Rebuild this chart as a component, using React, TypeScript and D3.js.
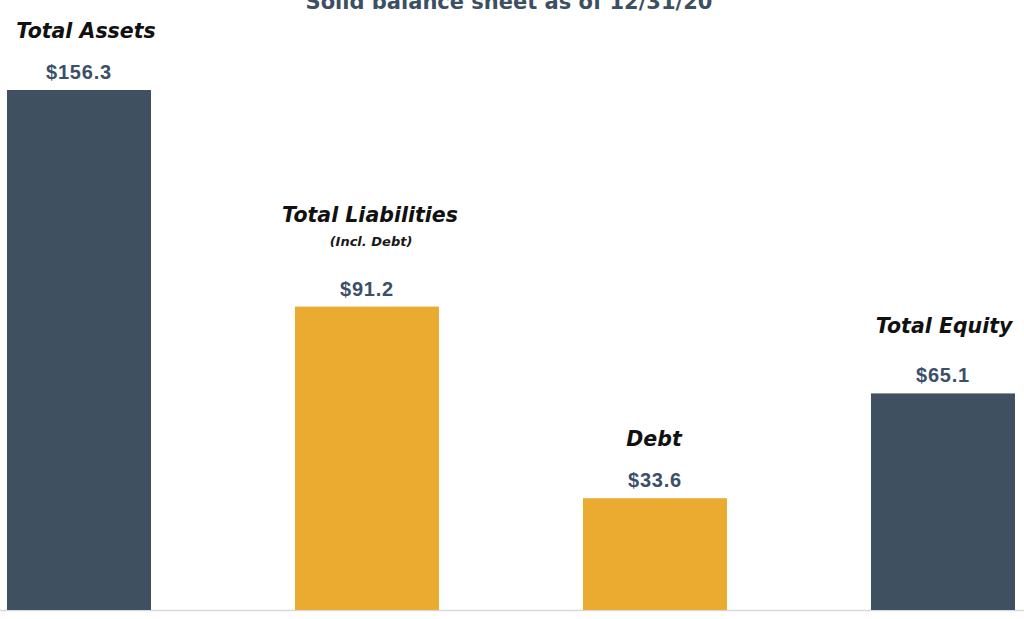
import * as d3 from "d3";
import { useEffect, useRef } from "react";

const CATEGORIES = ["Total Assets", "Total Liabilities", "Debt", "Total Equity"];
const SUBLABELS = ["", "(Incl. Debt)", "", ""];
const VALUES = [156.3, 91.2, 33.6, 65.1];
const KINDS = ["asset", "liability", "liability", "asset"];
const TITLE = "Solid balance sheet as of 12/31/20";

const COLORS: Record<string, string> = {
  asset: "#3f5060",
  liability: "#eaab30",
};

const WIDTH = 1024;
const HEIGHT = 619;

const drawChart = (svgElement: SVGSVGElement) => {
  const svg = d3.select(svgElement);
  svg.selectAll("*").remove();

  const baseline = 610;
  const xScale = d3
    .scaleBand<string>()
    .domain(CATEGORIES)
    .range([-65, 1087])
    .paddingInner(0.5)
    .paddingOuter(0.25);

  const yScale = d3.scaleLinear().domain([0, 156.3]).range([baseline, 90]);

  const rows = CATEGORIES.map((name, i) => ({
    name,
    sub: SUBLABELS[i],
    value: VALUES[i],
    kind: KINDS[i],
  }));

  svg.append("rect").attr("width", WIDTH).attr("height", HEIGHT).attr("fill", "white");

  // title, cut off at the top of the frame like the source slide
  svg
    .append("text")
    .attr("x", 509)
    .attr("y", 9)
    .style("text-anchor", "middle")
    .style("font-family", "'DejaVu Sans', sans-serif")
    .style("font-size", "21px")
    .style("font-weight", "bold")
    .attr("fill", "#3d4f63")
    .text(TITLE);

  svg
    .append("line")
    .attr("x1", 0)
    .attr("x2", WIDTH)
    .attr("y1", baseline + 0.5)
    .attr("y2", baseline + 0.5)
    .attr("stroke", "#d9d9d9")
    .attr("stroke-width", 1.5);

  svg
    .selectAll("rect.bar")
    .data(rows)
    .join("rect")
    .attr("class", "bar")
    .attr("x", (d) => xScale(d.name) ?? 0)
    .attr("y", (d) => yScale(d.value))
    .attr("width", xScale.bandwidth())
    .attr("height", (d) => baseline - yScale(d.value))
    .attr("fill", (d) => COLORS[d.kind]);

  const cx = (d: { name: string }) => (xScale(d.name) ?? 0) + xScale.bandwidth() / 2;

  svg
    .selectAll("text.value")
    .data(rows)
    .join("text")
    .attr("class", "value")
    .attr("x", cx)
    .attr("y", (d) => yScale(d.value) - 11)
    .style("text-anchor", "middle")
    .style("font-family", "'Liberation Sans', Arial, sans-serif")
    .style("font-size", "20px")
    .style("letter-spacing", "0.8px")
    .style("font-weight", "bold")
    .attr("fill", "#3b4f69")
    .text((d) => `$${d.value.toFixed(1)}`);

  svg
    .selectAll("text.sub")
    .data(rows.filter((d) => d.sub))
    .join("text")
    .attr("class", "sub")
    .attr("x", (d) => cx(d) + 4)
    .attr("y", (d) => yScale(d.value) - 61)
    .style("text-anchor", "middle")
    .style("font-family", "'DejaVu Sans', sans-serif")
    .style("font-size", "13px")
    .style("font-style", "italic")
    .style("font-weight", "bold")
    .attr("fill", "#1a1a1a")
    .text((d) => d.sub);

  const labelShift: Record<string, number> = {
    "Total Assets": 7,
    "Total Liabilities": 3,
    Debt: -1,
    "Total Equity": 1,
  };

  svg
    .selectAll("text.label")
    .data(rows)
    .join("text")
    .attr("class", "label")
    .attr("x", (d) => cx(d) + labelShift[d.name])
    .attr("y", (d) => yScale(d.value) - (d.sub ? 85 : d.name === "Total Equity" ? 60 : 52))
    .style("text-anchor", "middle")
    .style("font-family", "'DejaVu Sans', sans-serif")
    .style("font-size", "20.5px")
    .style("font-style", "italic")
    .style("font-weight", "bold")
    .attr("fill", "#111")
    .text((d) => d.name);
};

const App = () => {
  const svgRef = useRef<SVGSVGElement | null>(null);

  useEffect(() => {
    if (svgRef.current) drawChart(svgRef.current);
  }, []);

  return (
    <div style={{ position: "fixed", left: 0, top: 0, width: WIDTH, height: HEIGHT }}>
      <svg ref={svgRef} width={WIDTH} height={HEIGHT} style={{ display: "block" }} />
    </div>
  );
};

export default App;
